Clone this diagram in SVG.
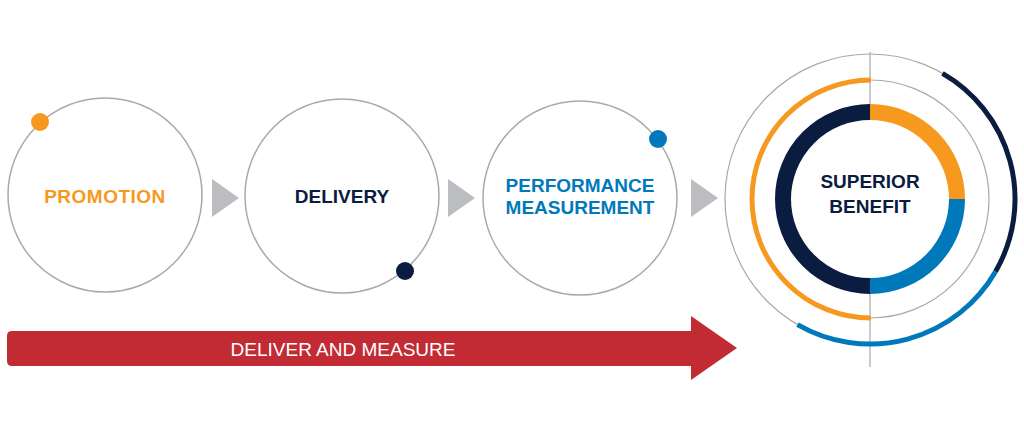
<svg xmlns="http://www.w3.org/2000/svg" width="1024" height="433" viewBox="0 0 1024 433">
<defs>
<style>
.ring{fill:#fff;stroke:#A7A9AC;stroke-width:1.5}
.thin{fill:none;stroke:#A7A9AC;stroke-width:1.2}
.lbl{font-family:"Liberation Sans",Arial,sans-serif;font-weight:bold;font-size:19px;text-anchor:middle}
.tri{fill:#BCBDC0}
.arc{fill:none;stroke-linecap:butt}
</style>
</defs>
<rect width="1024" height="433" fill="#fff"/>
<g id="connectors">
<polygon class="tri" points="212,179 212,217 239,198"/>
<polygon class="tri" points="448,179 448,217 475,198"/>
<polygon class="tri" points="691,179 691,217 718,198"/>
</g>
<g id="promotion">
<circle class="ring" cx="105" cy="195" r="97"/>
<circle cx="40" cy="122" r="9" fill="#F6991E"/>
<text class="lbl" x="105" y="203" fill="#F6991E" letter-spacing="0.5">PROMOTION</text>
</g>
<g id="delivery">
<circle class="ring" cx="342" cy="196" r="97"/>
<circle cx="405" cy="271" r="9" fill="#0B1C41"/>
<text class="lbl" x="342" y="203" fill="#0B1C41">DELIVERY</text>
</g>
<g id="performance">
<circle class="ring" cx="580" cy="198" r="97"/>
<circle cx="658" cy="139" r="9" fill="#0079BB"/>
<text class="lbl" x="580" y="192" fill="#0079BB">PERFORMANCE</text>
<text class="lbl" x="580" y="214" fill="#0079BB">MEASUREMENT</text>
</g>
<g id="superior-benefit">
<circle class="thin" cx="870" cy="199" r="145"/>
<circle class="thin" cx="870" cy="199" r="119"/>
<line x1="870" y1="52" x2="870" y2="112" stroke="#A7A9AC" stroke-width="1.2"/>
<line x1="870" y1="286" x2="870" y2="367" stroke="#A7A9AC" stroke-width="1.2"/>
<path class="arc" stroke="#0B1C41" stroke-width="5" d="M 942.5 73.4 A 145 145 0 0 1 995.6 271.5"/>
<path class="arc" stroke="#0079BB" stroke-width="5" d="M 995.6 271.5 A 145 145 0 0 1 797.5 324.6"/>
<path class="arc" stroke="#F6991E" stroke-width="5" d="M 871 318 A 119 119 0 1 1 871 80"/>
<path class="arc" stroke="#F6991E" stroke-width="16" d="M 870 112 A 87 87 0 0 1 957 199"/>
<path class="arc" stroke="#0079BB" stroke-width="16" d="M 957 199 A 87 87 0 0 1 870 286"/>
<path class="arc" stroke="#0B1C41" stroke-width="16" d="M 870 286 A 87 87 0 1 1 870 112"/>
<text class="lbl" x="870" y="188" fill="#0B1C41">SUPERIOR</text>
<text class="lbl" x="870" y="213" fill="#0B1C41">BENEFIT</text>
</g>
<g id="deliver-and-measure">
<path fill="#C22B33" d="M 12 331 L 691 331 L 691 316 L 737 348 L 691 380 L 691 366 L 12 366 Q 7 366 7 361 L 7 336 Q 7 331 12 331 Z"/>
<text x="343" y="356" fill="#fff" font-family="Liberation Sans, Arial, sans-serif" font-size="19" text-anchor="middle">DELIVER AND MEASURE</text>
</g>
</svg>
